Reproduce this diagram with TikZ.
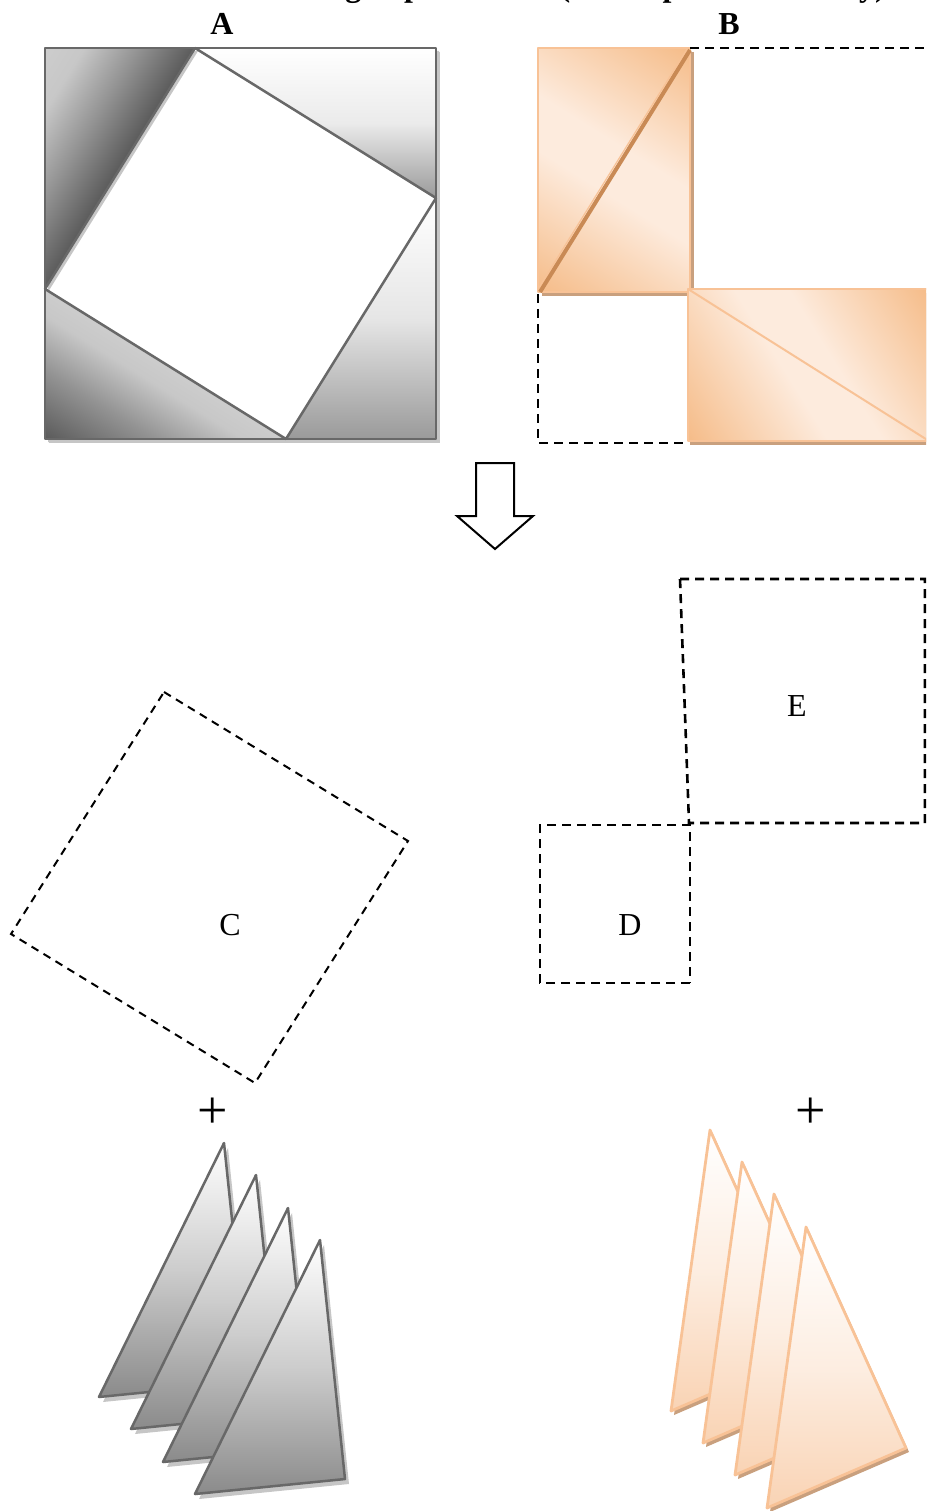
\documentclass[tikz,border=0pt]{standalone}
\usepackage{fontspec}
\setmainfont{Liberation Serif}
\definecolor{gline}{HTML}{686868}
\definecolor{gshadow}{HTML}{C6C6C6}
\definecolor{gdark}{HTML}{5A5A5A}
\definecolor{glight}{HTML}{CDCDCD}
\definecolor{gmid}{HTML}{9A9A9A}
\definecolor{oline}{HTML}{F8C296}
\definecolor{oshadow}{HTML}{C9A07E}
\definecolor{odeep}{HTML}{F5BB87}
\definecolor{opale}{HTML}{FDEBDD}
\definecolor{obrown}{HTML}{C98A55}
\definecolor{obottom}{HTML}{F9D3B4}
\pgfdeclarehorizontalshading{obandsh}{100bp}{color(0bp)=(odeep); color(25bp)=(odeep); color(46bp)=(opale); color(54bp)=(opale); color(75bp)=(odeep); color(100bp)=(odeep)}
\pgfdeclarehorizontalshading{gtlsh}{100bp}{color(0bp)=(glight); color(25bp)=(glight); color(38bp)=(glight!95!gdark); color(56bp)=(glight!50!gdark); color(75bp)=(gdark); color(100bp)=(gdark)}
\pgfdeclarehorizontalshading{gblsh}{100bp}{color(0bp)=(gdark); color(25bp)=(gdark); color(48bp)=(glight!50!gdark); color(66bp)=(glight!95!gdark); color(75bp)=(glight); color(100bp)=(glight)}
\begin{document}
\begin{tikzpicture}[x=1pt,y=-1pt,
  gedge/.style={draw=gline,line width=2.5pt,line join=round},
  oedge/.style={draw=oline,line width=2.8pt,line join=round},
  dashbox/.style={draw=black,line width=2.6pt,dash pattern=on 9pt off 6pt},
  dashthin/.style={draw=black,line width=2pt,dash pattern=on 8pt off 6pt},
  lbl/.style={font=\fontsize{32}{38}\selectfont,inner sep=0pt},
  blbl/.style={font=\fontsize{32}{38}\selectfont\bfseries,inner sep=0pt},
  plus/.style={font=\fontsize{54}{60}\selectfont,inner sep=0pt}]
\useasboundingbox (0,0) rectangle (926,1511);
\clip (0,0) rectangle (926,1511);

% clipped title (only its descenders show, as in the reference)
\node[blbl,anchor=base east] (title) at (886,-3) {The total area when adding of pieces in A (all the pieces in B only)};
\node[blbl] (labA) at (222,24) {A};
\node[blbl] (labB) at (729,24) {B};

% ---------- square A ----------
\fill[gshadow] (49,52) rectangle (440,443);
\fill[white] (45,48) rectangle (436,439);
\foreach \p in {{(45,48) -- (195,48) -- (45,289)},{(195,48) -- (436,48) -- (436,198)},{(436,198) -- (436,439) -- (286,439)},{(45,289) -- (286,439) -- (45,439)}}{
  \fill[gshadow,shift={(3pt,-3pt)}] \p -- cycle;
}
% top-left triangle: light corner, dark towards the hypotenuse
\begin{scope}
  \clip (45,48) -- (195,48) -- (45,289) -- cycle;
  \begin{scope}[transform canvas={shift={(45pt,-48pt)},rotate=-31.9}]
    \shade[shading=gtlsh] (0,-320) rectangle (128,320);
  \end{scope}
\end{scope}
\shade[top color=white,bottom color=gmid,middle color=white!80!gmid]
  (195,48) -- (436,48) -- (436,198) -- cycle;
\shade[top color=white,bottom color=gmid,middle color=white!75!gmid]
  (436,198) -- (436,439) -- (286,439) -- cycle;
% bottom-left triangle: dark corner, light towards the hypotenuse
\begin{scope}
  \clip (45,289) -- (286,439) -- (45,439) -- cycle;
  \begin{scope}[transform canvas={shift={(45pt,-439pt)},rotate=58.1}]
    \shade[shading=gblsh] (0,-320) rectangle (128,320);
  \end{scope}
\end{scope}
\draw[gedge] (45,48) rectangle (436,439);
\draw[gedge] (195,48) -- (436,198) -- (286,439) -- (45,289) -- cycle;

% ---------- square B ----------
\fill[oshadow] (542,52) rectangle (694,296);
\begin{scope}
  \clip (538,48) rectangle (690,292);
  \begin{scope}[transform canvas={shift={(614pt,-170pt)},rotate=58}]
    \shade[shading=obandsh] (-146,-220) rectangle (146,220);
  \end{scope}
\end{scope}
\draw[oedge,line width=2pt] (538,48) rectangle (690,292);
\draw[obrown,line width=4pt] (540,292) -- (690,50);
\draw[oline,line width=1.2pt] (538,289) -- (687,49);

\fill[oshadow] (690,293) rectangle (930,445);
\begin{scope}
  \clip (688,289) rectangle (929,441);
  \begin{scope}[transform canvas={shift={(808.5pt,-365pt)},rotate=32}]
    \shade[shading=obandsh] (-144,-220) rectangle (144,220);
  \end{scope}
\end{scope}
\draw[oedge,line width=2pt] (688,289) rectangle (929,441);
\draw[oline,line width=2pt] (688,289) -- (929,441);

\draw[dashbox] (690,48) -- (929,48);
\draw[dashbox] (538,294) -- (538,443) -- (688,443);

% ---------- arrow ----------
\draw[black,line width=2pt,fill=white,line join=miter]
  (476,463) -- (514,463) -- (514,516) -- (533,516) -- (495,549) -- (457,516) -- (476,516) -- cycle;

% ---------- C, D, E ----------
\draw[dashthin] (164,692) -- (408,841) -- (255,1083) -- (11,934) -- cycle;
\node[lbl] (labC) at (230,925) {C};
\draw[dashbox] (680,579) -- (925,579) -- (925,823) -- (689,823) -- cycle;
\node[lbl] (labE) at (797,706) {E};
\draw[dashbox] (690,983) -- (540,983) -- (540,825) -- (690,825) -- (690,983);
\node[lbl] (labD) at (630,925) {D};

% ---------- plus signs ----------
\node[plus] (plusL) at (213,1113) {+};
\node[plus] (plusR) at (811,1113) {+};

% ---------- grey triangles ----------
\foreach \ax/\ay in {224/1143,256/1175,288/1208,320/1240}{
  \fill[gshadow] (\ax+4,\ay+5) -- (\ax-121,\ay+259) -- (\ax+29,\ay+244) -- cycle;
  \shade[top color=white,bottom color=gmid!90!black,middle color=white!50!gmid]
    (\ax,\ay) -- (\ax-125,\ay+254) -- (\ax+25,\ay+239) -- cycle;
  \draw[gedge] (\ax,\ay) -- (\ax-125,\ay+254) -- (\ax+25,\ay+239) -- cycle;
}

% ---------- orange triangles ----------
\foreach \ax/\ay in {710/1130,742/1162,774/1194,806/1227}{
  \fill[oshadow] (\ax+3,\ay+4) -- (\ax-36,\ay+285) -- (\ax+103,\ay+225) -- cycle;
  \shade[top color=white,bottom color=obottom,middle color=white!60!obottom]
    (\ax,\ay) -- (\ax-39,\ay+281) -- (\ax+100,\ay+221) -- cycle;
  \draw[oedge] (\ax,\ay) -- (\ax-39,\ay+281) -- (\ax+100,\ay+221) -- cycle;
}
\end{tikzpicture}
\end{document}
